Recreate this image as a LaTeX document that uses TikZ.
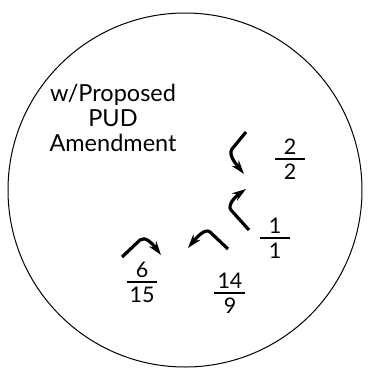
\documentclass[tikz,border=0pt]{standalone}
\usepackage{fontspec}
\setmainfont{Lato}
\usetikzlibrary{arrows.meta}

\newcommand{\ratio}[2]{%
  \vbox{\offinterlineskip
    \hbox to 31pt{\hss#1\hss}\kern3.5pt
    \hrule height 1.8pt\kern4pt
    \hbox to 31pt{\hss#2\hss}}}

\tikzset{
  label text/.style={font=\fontsize{23.5}{25}\selectfont, align=center, inner sep=0pt},
  ratio text/.style={font=\fontsize{21.5}{22}\selectfont, inner sep=0pt}
}

\begin{document}
\begin{tikzpicture}[x=1pt, y=-1pt, >={Stealth[length=14pt, width=9pt]}, line width=3.2pt]
  \useasboundingbox (0,0) rectangle (370,376);
  \draw[line width=1pt] (185,190) circle[radius=177pt];

  \node[label text] (title) at (113,118) {w/Proposed\\PUD\\Amendment};

  % turn arrows
  \draw[->] (246,132) -- (232,149) .. controls (228,155) and (236,164) .. (244,174);
  \draw[->] (249,230) -- (231,210) .. controls (227,205) and (236,196) .. (246,189);
  \draw[->] (122,257) -- (140,240) .. controls (145,236) and (152,243) .. (161,255);
  \draw[->] (228,249) -- (210,232) .. controls (205,228) and (197,237) .. (188,248);

  % counts
  \node[ratio text] (r22) at (290,159) {\ratio{2}{2}};
  \node[ratio text] (r11) at (275,238) {\ratio{1}{1}};
  \node[ratio text] (r615) at (142,282) {\ratio{6}{15}};
  \node[ratio text] (r149) at (230,293) {\ratio{14}{9}};
\end{tikzpicture}
\end{document}
